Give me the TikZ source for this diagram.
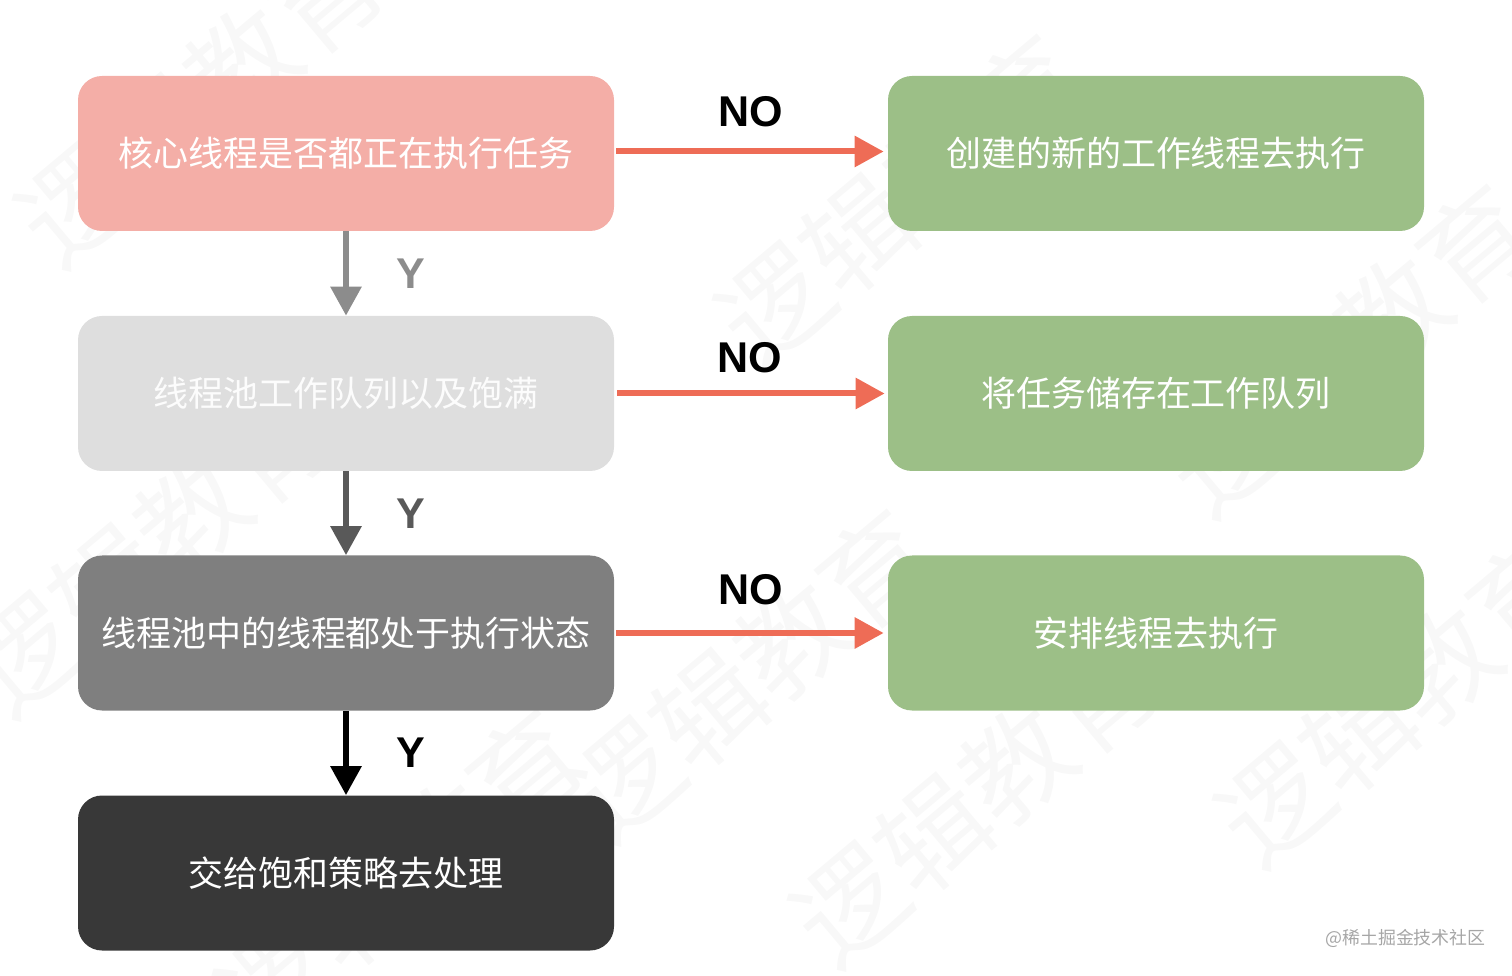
\documentclass[tikz,border=0pt]{standalone}
\usepackage{fontspec}
\setmainfont{Noto Sans CJK SC}
\newfontfamily\latinbold{Liberation Sans}[BoldFont={Liberation Sans Bold}]
\usetikzlibrary{arrows.meta,positioning}
\definecolor{pinkbox}{HTML}{F4AEA7}
\definecolor{lightbox}{HTML}{DEDEDE}
\definecolor{midbox}{HTML}{7F7F7F}
\definecolor{darkbox}{HTML}{383838}
\definecolor{greenbox}{HTML}{9CBF87}
\definecolor{noarrow}{HTML}{EE6C56}
\definecolor{markgray}{HTML}{F8F8F8}
\tikzset{
  taskbox/.style={rounded corners=0.48cm, minimum width=10.72cm, minimum height=3.1cm, inner sep=0pt,
    text=white, font=\fontsize{19.9pt}{24pt}\selectfont},
  flow/.style={line width=0.12cm, -{Triangle[length=0.58cm,width=0.6cm]}},
  nolabel/.style={font=\fontsize{24.5pt}{28pt}\latinbold\bfseries, inner sep=0pt},
  ylabel/.style={nolabel},
  markword/.style={text=markgray, rotate=40, inner sep=0pt, font=\fontsize{62pt}{70pt}\selectfont}
}
\begin{document}
\begin{tikzpicture}
  \useasboundingbox (0,0) rectangle (30.24,19.5);

  % faint marks behind everything
  \foreach \xpos/\ypos in {4/17.5, 18/15.5, 3/8.5, 15/6, 19.5/3.5, 27/12.5, 28/5.5, 8/2}
    \node[markword] (mark\xpos) at (\xpos,\ypos) {逻辑教育};

  % Left column
  \node[taskbox, fill=pinkbox] (core) at (6.92,16.43) {核心线程是否都正在执行任务};
  \node[taskbox, fill=lightbox, text=white!92!lightbox] (queue) at (6.92,11.63) {线程池工作队列以及饱满};
  \node[taskbox, fill=midbox] (pool) at (6.92,6.84) {线程池中的线程都处于执行状态};
  \node[taskbox, fill=darkbox] (reject) at (6.92,2.04) {交给饱和策略去处理};

  % Right column
  \node[taskbox, fill=greenbox] (create) at (23.12,16.43) {创建的新的工作线程去执行};
  \node[taskbox, fill=greenbox] (store) at (23.12,11.63) {将任务储存在工作队列};
  \node[taskbox, fill=greenbox] (run) at (23.12,6.84) {安排线程去执行};

  % Y arrows
  \draw[flow, color=black!45] (core) -- (queue);
  \draw[flow, color=black!65] (queue) -- (pool);
  \draw[flow, color=black] (pool) -- (reject);
  \node[ylabel, text=black!45] (y1) at (8.22,14.02) {Y};
  \node[ylabel, text=black!65] (y2) at (8.22,9.23) {Y};
  \node[ylabel] (y3) at (8.22,4.44) {Y};

  % NO arrows
  \draw[flow, noarrow, shorten <=0.04cm, shorten >=0.08cm] ([yshift=0.04cm]core.east) -- ([yshift=0.04cm]create.west);
  \draw[flow, noarrow, shorten <=0.06cm, shorten >=0.06cm] (queue) -- (store);
  \draw[flow, noarrow, shorten <=0.04cm, shorten >=0.08cm] (pool) -- (run);
  \node[nolabel] (no1) at (15.02,17.27) {NO};
  \node[nolabel] (no2) at (15.0,12.34) {NO};
  \node[nolabel] (no3) at (15.02,7.7) {NO};

  % corner mark
  \node[anchor=east, inner sep=0pt, text=black!35, font=\fontsize{10.2pt}{12pt}\selectfont] (site) at (29.72,0.74) {@稀土掘金技术社区};
\end{tikzpicture}
\end{document}
